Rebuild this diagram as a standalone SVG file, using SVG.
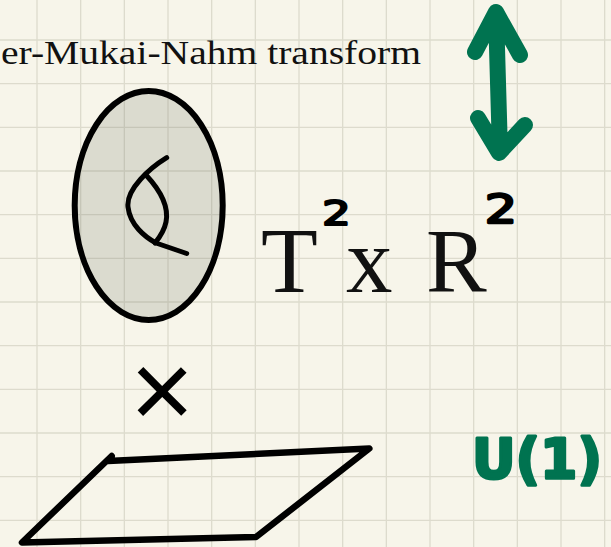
<svg xmlns="http://www.w3.org/2000/svg" width="611" height="547" viewBox="0 0 611 547">
<style>
.ink{fill:none;stroke:#000;stroke-linecap:round;stroke-linejoin:round}
.green{fill:none;stroke:#007350;stroke-linecap:round;stroke-linejoin:round}
.serif{font-family:"Liberation Serif","Times New Roman",serif;fill:#111}
.hand{font-family:"DejaVu Sans","Liberation Sans",sans-serif;stroke-linejoin:round}
</style>
<rect width="611" height="547" fill="#f7f5ea"/>
<g id="grid" stroke="#dddbcd" stroke-width="1.3" fill="none">
<path d="M37,0V547M80.67,0V547M124.33,0V547M168,0V547M211.67,0V547M255.33,0V547M299,0V547M342.67,0V547M386.33,0V547M430,0V547M473.67,0V547M517.33,0V547M561,0V547M604.67,0V547"/>
<path d="M0,40H611M0,83.67H611M0,127.33H611M0,171H611M0,214.67H611M0,258.33H611M0,302H611M0,345.67H611M0,389.33H611M0,433H611M0,476.67H611M0,520.33H611"/>
</g>
<g id="title">
<text class="serif" x="1" y="64" font-size="34" textLength="420" lengthAdjust="spacingAndGlyphs">er-Mukai-Nahm transform</text>
</g>
<g id="fiber">
<ellipse cx="148.7" cy="205.5" rx="74" ry="114.5" fill="#6e7264" fill-opacity="0.2" stroke="#000" stroke-width="6"/>
<path class="ink" stroke-width="5" d="M166.7,157.7 C150,168 126,189 128,207 C130,225 145,237 156,243 L186.7,253.5"/>
<path class="ink" stroke-width="5" d="M146,175 C160,190 169,207 166,222 C164,232 159,238 155,243"/>
</g>
<g id="times">
<text x="162" y="428" font-size="110" text-anchor="middle" font-family="Liberation Sans, Arial, sans-serif" fill="#000">×</text>
</g>
<g id="plane">
<path class="ink" stroke-width="6.5" d="M111.7,456 L22,542.5 L256,537 L369.3,448.5 L108,461"/>
</g>
<g id="product">
<text class="serif" x="261" y="292" font-size="93" fill="#000">T</text>
<text class="serif" x="346" y="292" font-size="93" fill="#000">x</text>
<text class="serif" x="426" y="292" font-size="91" fill="#000">R</text>
<text class="hand" transform="translate(336.5,225) scale(1.35,1)" x="0" y="0" font-size="33" text-anchor="middle" fill="#000" stroke="#000" stroke-width="2.2">2</text>
<text class="hand" transform="translate(501,223) scale(1.3,1)" x="0" y="0" font-size="39" text-anchor="middle" fill="#000" stroke="#000" stroke-width="2.4">2</text>
</g>
<g id="u1">
<text class="hand" x="472" y="478" font-size="56" font-weight="bold" fill="#007350" stroke="#007350" stroke-width="3" textLength="130" lengthAdjust="spacingAndGlyphs">U(1)</text>
</g>
<g id="connectors">
<path class="green" stroke-width="16" d="M496,13 L500,152 M475,52 L496,12 L520,55 M478,118 L499,153 L525,125"/>
</g>
</svg>
